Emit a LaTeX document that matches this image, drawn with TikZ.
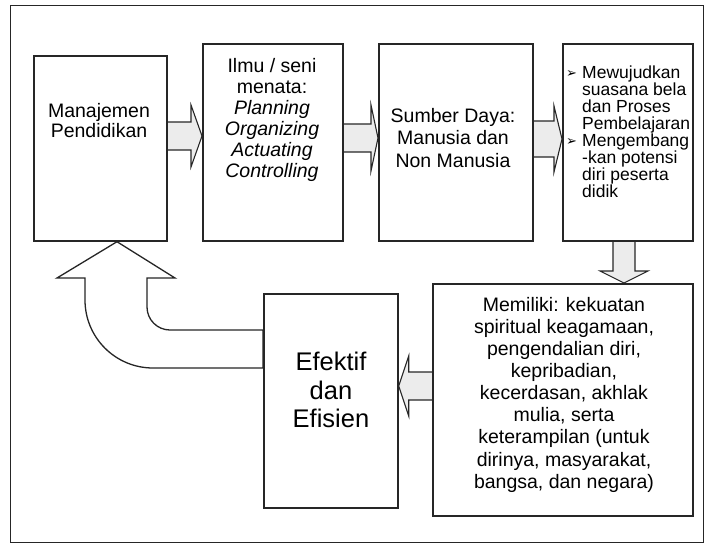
\documentclass[tikz,border=0pt]{standalone}
\usepackage{fontspec}
\setmainfont{Liberation Sans}
\newfontfamily\symfont{DejaVu Sans}
\usetikzlibrary{calc,backgrounds}

% horizontal block arrow: tail, tip, shaft half width, head half width, head length (signed)
\newcommand\hblockarrow[5]{%
  \draw[blockarrow] ($(#1)+(0,-#3)$) -- ($(#2)+({-(#5)},-#3)$) -- ($(#2)+({-(#5)},-#4)$)
    -- (#2) -- ($(#2)+({-(#5)},#4)$) -- ($(#2)+({-(#5)},#3)$) -- ($(#1)+(0,#3)$);}
\newcommand\bulletmark{\makebox[16pt][l]{\raisebox{0.5pt}{\symfont\fontsize{13}{13}\selectfont ➢}}}
\newcommand\indentmark{\hspace*{16pt}}

\begin{document}
\begin{tikzpicture}[x=1pt,y=-1pt,
  box/.style={draw=black!85, line width=1.7pt, inner sep=0pt, anchor=north west},
  txt/.style={inner sep=0pt, anchor=north, align=center, text=black},
  blockarrow/.style={draw=black!85, line width=1.1pt, fill=gray!15, line join=miter},
  uturn/.style={draw=black!85, line width=1.3pt, fill=white, line join=miter}]
\useasboundingbox (0,0) rectangle (707,549);

% outer frame
\node[draw=black!85, line width=1.4pt, inner sep=0pt, anchor=north west,
      minimum width=693pt, minimum height=537pt] (frame) at (10,5) {};

% boxes
\node[box, minimum width=133pt, minimum height=185pt] (b1) at (33,55) {};
\node[box, minimum width=140pt, minimum height=197pt] (b2) at (202,43) {};
\node[box, minimum width=154pt, minimum height=197pt] (b3) at (378,43) {};
\node[box, minimum width=130pt, minimum height=197pt] (b4) at (562,43) {};
\node[box, minimum width=260pt, minimum height=232pt] (b5) at (432,283) {};
\node[box, minimum width=134pt, minimum height=214pt] (b6) at (263,293) {};

% texts
\node[txt, font=\fontsize{19.5}{20}\selectfont] (t1) at (99,103) {Manajemen\\Pendidikan};
\node[txt, font=\fontsize{19.5}{21}\selectfont] (t2) at (272,58)
  {Ilmu / seni\\menata:\\\textit{Planning}\\\textit{Organizing}\\\textit{Actuating}\\\textit{Controlling}};
\node[txt, font=\fontsize{19.5}{22.5}\selectfont] (t3) at (453,108) {Sumber Daya:\\Manusia dan\\Non Manusia};
\begin{scope}
  \clip (b4.north west) rectangle (b4.south east);
  \node[txt, anchor=north west, align=left, font=\fontsize{17.5}{17}\selectfont] (t4) at (566,65.5)
    {\bulletmark Mewujudkan\\\indentmark suasana bela\\\indentmark dan Proses\\\indentmark Pembelajaran\\
     \bulletmark Mengembang\\\indentmark -kan potensi\\\indentmark diri peserta\\\indentmark didik};
\end{scope}
\node[txt, font=\fontsize{19.5}{22.1}\selectfont] (t5) at (564,297)
  {Memiliki: kekuatan\\spiritual keagamaan,\\pengendalian diri,\\kepribadian,\\kecerdasan, akhlak\\mulia, serta\\keterampilan (untuk\\dirinya, masyarakat,\\bangsa, dan negara)};
\node[txt, font=\fontsize{25.5}{28.5}\selectfont] (t6) at (331,352) {Efektif\\dan\\Efisien};

% connectors
\begin{scope}[on background layer]
  \coordinate (a1s) at (b1.east |- 0,136);  \coordinate (a1e) at (b2.west |- 0,136);
  \coordinate (a2s) at (b2.east |- 0,138);  \coordinate (a2e) at (b3.west |- 0,138);
  \coordinate (a3s) at (b3.east |- 0,139);  \coordinate (a3e) at (b4.west |- 0,139);
  \coordinate (a5s) at (b5.west |- 0,386);  \coordinate (a5e) at (b6.east |- 0,386);
  \hblockarrow{a1s}{a1e}{14}{31}{11}
  \hblockarrow{a2s}{a2e}{14}{33}{7}
  \hblockarrow{a3s}{a3e}{18}{33}{8}
  \hblockarrow{a5s}{a5e}{14}{30}{-10}
  % downward arrow
  \coordinate (a4s) at (624,0 |- b4.south);  \coordinate (a4e) at (624,0 |- b5.north);
  \draw[blockarrow] ($(a4s)+(-11,0)$) -- ($(a4e)+(-11,-12)$) -- ($(a4e)+(-24,-12)$) -- (a4e)
    -- ($(a4e)+(24,-12)$) -- ($(a4e)+(11,-12)$) -- ($(a4s)+(11,0)$);
  % U-turn arrow back to the first box
  \coordinate (ut) at ($(b1.south west)+(84,0)$);
  \draw[uturn] (ut) -- (175,278) -- (147,278) -- (147,307)
    .. controls (147,319.7) and (157.3,330) .. (170,330) -- (b6.west |- 0,330)
    -- (b6.west |- 0,368) -- (153,368)
    .. controls (115.4,368) and (85,337.6) .. (85,300) -- (85,278) -- (57,278) -- cycle;
\end{scope}
\end{tikzpicture}
\end{document}
